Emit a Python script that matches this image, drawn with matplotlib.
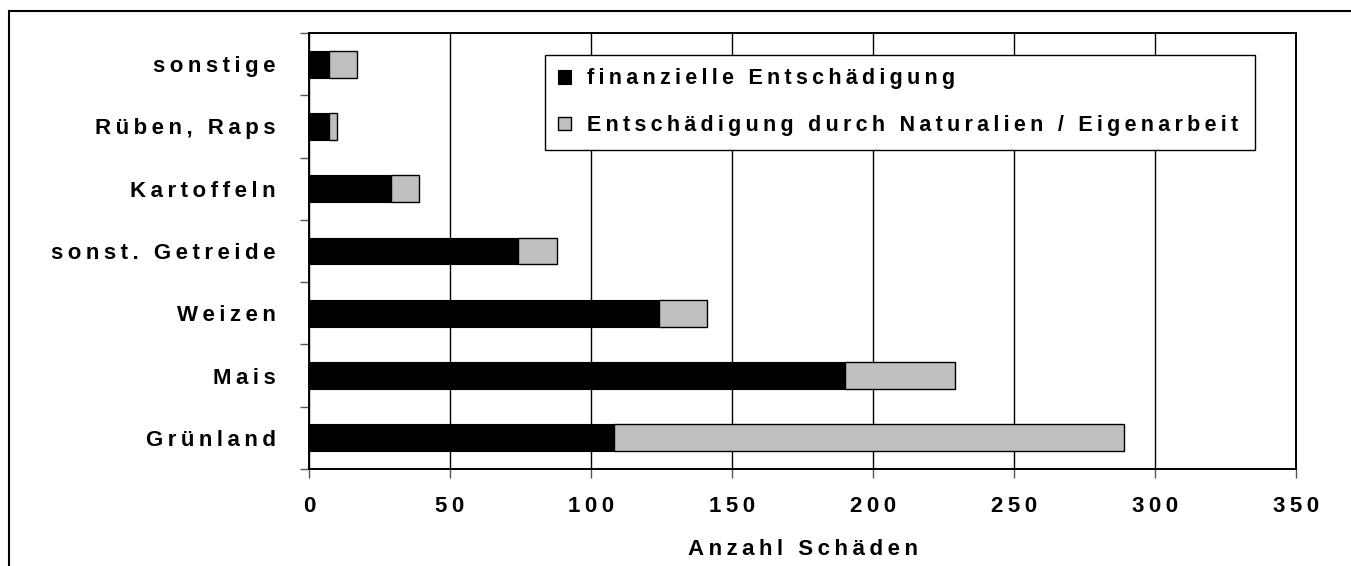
import matplotlib
matplotlib.use("Agg")
import matplotlib.pyplot as plt
from matplotlib.patches import Rectangle
from matplotlib.ticker import FixedLocator

plt.rcParams['font.family'] = ['Liberation Sans', 'DejaVu Sans']
plt.rcParams['font.weight'] = 'bold'

categories = ["Grünland", "Mais", "Weizen", "sonst. Getreide", "Kartoffeln", "Rüben, Raps", "sonstige"]
financial = [108, 190, 124, 74, 29, 7, 7]
natural = [181, 39, 17, 14, 10, 3, 10]
series_names = ["finanzielle Entschädigung", "Entschädigung durch Naturalien / Eigenarbeit"]
x_ticks = [0, 50, 100, 150, 200, 250, 300, 350]
x_label = "Anzahl Schäden"


def spaced(s):
    return "\u2009".join(s)


W, H = 1351, 566
FS = 16
fig = plt.figure(figsize=(W / 100, H / 100), dpi=100)
ax = fig.add_axes([309 / W, 1 - 469 / H, (1296 - 309) / W, (469 - 33) / H])

ypos = list(range(len(categories)))
b1 = ax.barh(ypos, financial, height=0.43, color="black", edgecolor="black", linewidth=0.8, zorder=3,
             label=spaced(series_names[0]))
b2 = ax.barh(ypos, natural, left=financial, height=0.43, color="#c0c0c0", edgecolor="black",
             linewidth=1.0, zorder=3, label=spaced(series_names[1]))

ax.set_xlim(0, 350)
ax.set_ylim(-0.5, len(categories) - 0.5)
ax.set_xticks(x_ticks)
ax.set_xticklabels([spaced(str(t)) for t in x_ticks], fontsize=FS, fontweight='bold')
ax.set_yticks(ypos)
ax.set_yticklabels([spaced(c) for c in categories], fontsize=FS, fontweight='bold')
ax.yaxis.set_minor_locator(FixedLocator([i - 0.5 for i in range(len(categories) + 1)]))
ax.tick_params(axis='y', which='major', length=0, pad=24)
ax.tick_params(axis='y', which='minor', length=6.5, width=1, direction='out', color='#555555')
ax.tick_params(axis='x', which='major', length=6.5, width=1, direction='out', pad=13, color='#555555')

ax.xaxis.grid(True, color='black', linewidth=1.0, zorder=0)
ax.set_axisbelow(True)
for s in ax.spines.values():
    s.set_linewidth(1.4)
    s.set_color('black')

ax.set_xlabel(spaced(x_label), fontsize=FS, fontweight='bold', labelpad=16)

leg = fig.legend(handles=[b1, b2], loc='upper left',
                 bbox_to_anchor=(545 / W, 1 - 55 / H, (1255 - 545) / W, 0.0),
                 mode='expand', fancybox=False, framealpha=1, edgecolor='black',
                 fontsize=15.5, handlelength=0.6, handleheight=0.6, handletextpad=0.75,
                 labelspacing=1.2, borderpad=0.62, borderaxespad=0)
leg.get_frame().set_linewidth(1.0)
for t in leg.get_texts():
    t.set_fontweight('bold')

fig.add_artist(Rectangle((9 / W, -0.05), 1.1, 1 - 11 / H + 0.05, transform=fig.transFigure,
                         fill=False, edgecolor='black', linewidth=1.5, clip_on=False))

fig.savefig("out.png", dpi=100)
